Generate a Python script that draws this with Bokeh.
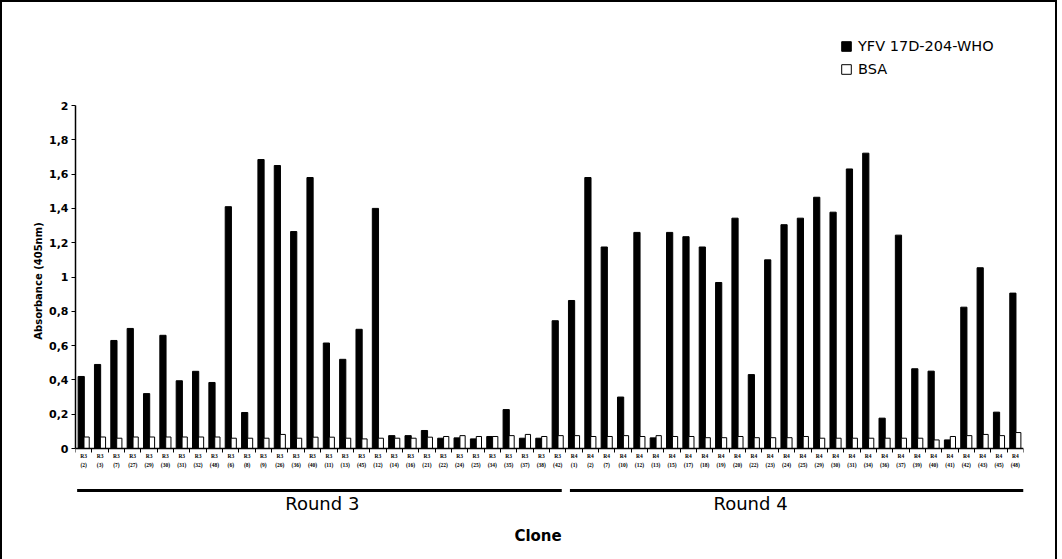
from bokeh.plotting import figure
from bokeh.models import (FactorRange, Range1d, LinearAxis, CategoricalAxis, FixedTicker,
                          CustomJSTickFormatter, Legend, LegendItem, ColumnDataSource)
from bokeh.transform import dodge
from bokeh.core.properties import value
from bokeh.embed import file_html
from bokeh.resources import INLINE

# ---------------- data ----------------
rounds = ["Round 3", "Round 4"]
round_prefix = ["R3", "R4"]
r3_clones = ["2", "3", "7", "27", "29", "30", "31", "32", "48", "6", "8", "9", "26", "36", "40",
             "11", "13", "45", "12", "14", "16", "21", "22", "24", "25", "34", "35", "37", "38", "42"]
r4_clones = ["1", "2", "7", "10", "12", "13", "15", "17", "18", "19", "20", "22", "23", "24", "25",
             "29", "30", "31", "34", "36", "37", "39", "40", "41", "42", "43", "45", "48"]
yfv_r3 = [0.42, 0.49, 0.63, 0.70, 0.32, 0.66, 0.395, 0.45, 0.385, 1.41, 0.21, 1.685, 1.65, 1.265, 1.58,
          0.615, 0.52, 0.695, 1.40, 0.075, 0.075, 0.105, 0.06, 0.062, 0.056, 0.07, 0.227, 0.06, 0.06, 0.745]
bsa_r3 = [0.067, 0.067, 0.06, 0.067, 0.067, 0.067, 0.067, 0.067, 0.067, 0.06, 0.06, 0.06, 0.082, 0.06, 0.066,
          0.066, 0.06, 0.056, 0.06, 0.06, 0.06, 0.066, 0.07, 0.075, 0.07, 0.07, 0.075, 0.082, 0.07, 0.075]
yfv_r4 = [0.863, 1.58, 1.175, 0.30, 1.26, 0.062, 1.26, 1.235, 1.175, 0.968, 1.343, 0.431, 1.10, 1.305,
          1.343, 1.465, 1.378, 1.63, 1.722, 0.177, 1.244, 0.465, 0.451, 0.05, 0.824, 1.054, 0.212, 0.906]
bsa_r4 = [0.075, 0.07, 0.07, 0.075, 0.07, 0.075, 0.07, 0.07, 0.063, 0.063, 0.07, 0.063, 0.063, 0.063,
          0.07, 0.06, 0.06, 0.06, 0.06, 0.06, 0.06, 0.06, 0.05, 0.07, 0.075, 0.082, 0.075, 0.093]
y_ticks = [0, 0.2, 0.4, 0.6, 0.8, 1.0, 1.2, 1.4, 1.6, 1.8, 2.0]

# ---------------- build ----------------
groups = [r3_clones, r4_clones]
factors = []
for pref, clones in zip(round_prefix, groups):
    factors += [f"{pref}\n({c})" for c in clones]
source = ColumnDataSource(dict(x=factors, yfv=yfv_r3 + yfv_r4, bsa=bsa_r3 + bsa_r4))
n = len(factors)

FONT = "DejaVu Sans"
PX_PER_UNIT = 171.5
ZERO_Y = 446      # canvas pixel of value 0
FRAME_TOP = 6
FRAME_BOTTOM = 551

p = figure(width=1057, height=559, output_backend="svg", toolbar_location=None,
           x_range=FactorRange(factors=factors, range_padding=0),
           y_range=Range1d(-(FRAME_BOTTOM - ZERO_Y) / PX_PER_UNIT, (ZERO_Y - FRAME_TOP) / PX_PER_UNIT),
           x_axis_location=None, y_axis_location="left",
           min_border_left=73, min_border_right=36, min_border_top=FRAME_TOP,
           min_border_bottom=559 - FRAME_BOTTOM)
p.styles = {"border-left": "2px solid black", "border-top": "2px solid black",
            "border-right": "2px solid black"}
p.outline_line_color = None
p.xgrid.visible = False
p.ygrid.visible = False
p.background_fill_color = "white"
p.border_fill_color = "white"

# y axis
ya = p.yaxis[0]
ya.bounds = (0, 2)
ya.ticker = FixedTicker(ticks=y_ticks)
ya.formatter = CustomJSTickFormatter(code="""
    const s = (Math.round(tick*10)/10).toString();
    return s.replace('.', ',');
""")
ya.axis_label = "Absorbance (405nm)"
ya.axis_label_text_font = FONT
ya.axis_label_text_font_style = "bold"
ya.axis_label_text_font_size = "10px"
ya.axis_label_text_color = "black"
ya.axis_label_standoff = 2
ya.major_label_text_font = FONT
ya.major_label_text_font_style = "bold"
ya.major_label_text_font_size = "11px"
ya.major_label_text_color = "black"
ya.major_label_standoff = 3
ya.axis_line_width = 1.5
ya.axis_line_color = "black"
ya.major_tick_line_color = "black"
ya.major_tick_out = 4
ya.major_tick_in = 0
ya.minor_tick_line_color = None

# x axis: labels (categorical) + boundary ticks (synthetic numeric coordinates)
xa = CategoricalAxis(fixed_location=0)
xa.axis_line_color = None
xa.major_tick_line_color = None
xa.minor_tick_line_color = None
xa.major_tick_out = 0
xa.major_tick_in = 0
xa.major_label_text_font = "Liberation Serif"
xa.major_label_text_font_style = "bold"
xa.major_label_text_font_size = "5.5px"
xa.major_label_text_color = "black"
xa.major_label_text_line_height = 1.6
xa.major_label_standoff = 4
p.add_layout(xa, "below")

xt = LinearAxis(fixed_location=0, ticker=FixedTicker(ticks=list(range(n + 1))), bounds=(0, n))
xt.major_label_text_color = None
xt.major_label_text_font_size = "0px"
xt.axis_line_width = 1.5
xt.axis_line_color = "black"
xt.major_tick_line_color = "black"
xt.major_tick_line_width = 1
xt.major_tick_out = 4
xt.major_tick_in = 0
xt.minor_tick_line_color = None
p.add_layout(xt, "below")

# bars
r1 = p.vbar(x=dodge("x", -0.15, range=p.x_range), top="yfv", width=0.38, source=source,
            fill_color="black", line_color="black", line_width=1)
r2 = p.vbar(x=dodge("x", 0.18, range=p.x_range), top="bsa", width=0.32, source=source,
            fill_color="white", line_color="black", line_width=1)

legend = Legend(items=[LegendItem(label="YFV 17D-204-WHO", renderers=[r1]),
                       LegendItem(label="BSA", renderers=[r2])],
                location=(765, 476), orientation="vertical",
                glyph_width=12, glyph_height=12, label_height=15, label_standoff=6,
                spacing=7, padding=0, margin=0,
                label_text_font=FONT, label_text_font_size="14.5px", label_text_color="black",
                border_line_color=None, background_fill_alpha=0)
p.add_layout(legend)

# round group lines and labels (synthetic x coordinates: factor i spans [i, i+1])
starts = [0, len(r3_clones)]
ends = [len(r3_clones), n]
gap = 0.25
line_y = -(490 - 448) / PX_PER_UNIT
for i, (s, e) in enumerate(zip(starts, ends)):
    x0 = s + (0.1 if i == 0 else gap)
    x1 = e - (gap if i == 0 else 0)
    p.line(x=[x0, x1], y=[line_y, line_y], line_color="black", line_width=3)

label_x = [15.1, 41.3]
label_y = -(503 - 448) / PX_PER_UNIT
p.text(x=label_x, y=[label_y] * 2, text=rounds,
       text_font=value(FONT), text_font_size="18px", text_align="center",
       text_baseline="middle", text_color="black")
p.text(x=[28.3], y=[-(535 - 448) / PX_PER_UNIT], text=["Clone"],
       text_font=value(FONT), text_font_size="15px", text_font_style="bold",
       text_align="center", text_baseline="middle", text_color="black")

open("out.html", "w").write(file_html(p, INLINE))
